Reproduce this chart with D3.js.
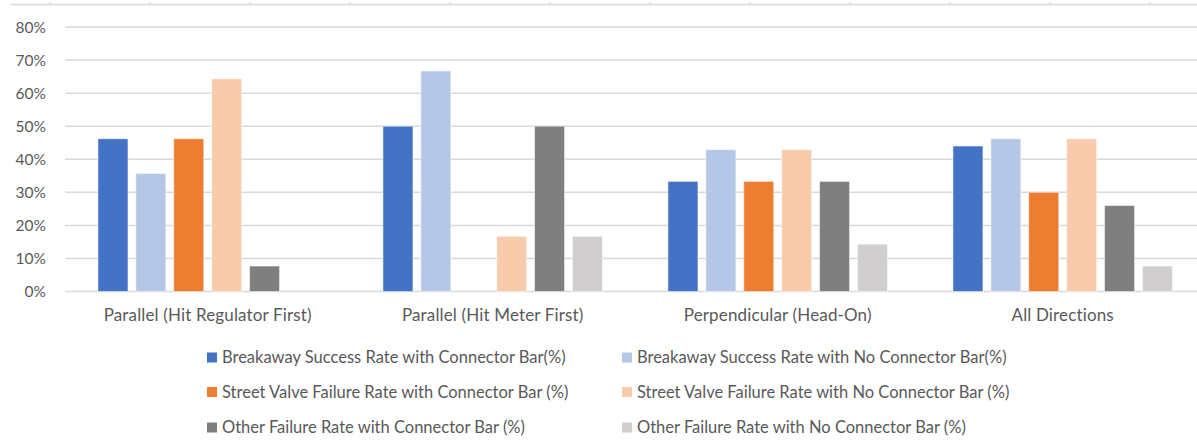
<!DOCTYPE html>
<html>
<head>
<meta charset="utf-8">
<script src="https://cdn.jsdelivr.net/npm/d3@7"></script>
<style>
  body { margin: 0; background: #fff; }
  text { font-family: Lato, "Open Sans", sans-serif; fill: #595959; }
</style>
</head>
<body>
<div id="chart"></div>
<script>
// categories on the x axis
var categories = ["Parallel (Hit Regulator First)", "Parallel (Hit Meter First)", "Perpendicular (Head-On)", "All Directions"];

// series names, in legend order
var seriesNames = [
  "Breakaway Success Rate with Connector Bar(%)",
  "Breakaway Success Rate with No Connector Bar(%)",
  "Street Valve Failure Rate with Connector Bar (%)",
  "Street Valve Failure Rate with No Connector Bar (%)",
  "Other Failure Rate with Connector Bar (%)",
  "Other Failure Rate with No Connector Bar (%)"
];

// values (%) per series, one per category
var successConnector   = [46.2, 50.0, 33.3, 44.0];
var successNoConnector = [35.7, 66.7, 42.9, 46.2];
var valveConnector     = [46.2, 0.0, 33.3, 30.0];
var valveNoConnector   = [64.3, 16.7, 42.9, 46.2];
var otherConnector     = [7.7, 50.0, 33.3, 26.0];
var otherNoConnector   = [0.0, 16.7, 14.3, 7.7];

var yTicks = [0, 10, 20, 30, 40, 50, 60, 70, 80];

var seriesValues = [successConnector, successNoConnector, valveConnector, valveNoConnector, otherConnector, otherNoConnector];
var colors = ["#4472C4", "#B4C7E7", "#ED7D31", "#F8CBAD", "#7F7F7F", "#D0CECE"];

var width = 1197, height = 441;
var plotLeft = 65.2, plotTop = 27, plotBottom = 291.5;

var svg = d3.select("#chart").append("svg")
    .attr("width", width)
    .attr("height", height);

// faint border line at the very top (cropped sheet edge)
svg.append("line")
    .attr("x1", 10).attr("x2", width)
    .attr("y1", 4.5).attr("y2", 4.5)
    .attr("stroke", "#d9d9d9").attr("stroke-width", 1.5);
svg.selectAll(".topTick").data(d3.range(50, width, 100)).enter()
    .append("line")
    .attr("x1", function(d){ return d; }).attr("x2", function(d){ return d; })
    .attr("y1", 2.5).attr("y2", 4.5)
    .attr("stroke", "#c8c8c8").attr("stroke-width", 1);

var y = d3.scaleLinear().domain([0, 80]).range([plotBottom, plotTop]);

var x0 = d3.scaleBand()
    .domain(categories)
    .range([plotLeft, plotLeft + 285 * 4]);

var x1 = d3.scaleBand()
    .domain(d3.range(seriesNames.length))
    .range([32.75, 252.25])
    .paddingInner(0.2084)
    .paddingOuter(0);

// gridlines
svg.append("g")
    .selectAll("line").data(yTicks).enter()
    .append("line")
    .attr("x1", plotLeft).attr("x2", width)
    .attr("y1", function(d){ return y(d); })
    .attr("y2", function(d){ return y(d); })
    .attr("stroke", "#d9d9d9")
    .attr("stroke-width", 1.5);

// y labels
svg.append("g")
    .selectAll("text").data(yTicks).enter()
    .append("text")
    .attr("x", 46)
    .attr("y", function(d){ return y(d); })
    .attr("dy", "0.36em")
    .attr("text-anchor", "end")
    .style("font-size", "15.5px")
    .text(function(d){ return d + "%"; });

// bars
var groups = svg.append("g").selectAll("g").data(categories).enter()
    .append("g")
    .attr("transform", function(d){ return "translate(" + x0(d) + ",0)"; });

groups.selectAll("rect")
    .data(function(d, i){ return seriesValues.map(function(s, j){ return {s: j, v: s[i]}; }); })
    .enter().append("rect")
    .attr("x", function(d){ return x1(d.s); })
    .attr("width", x1.bandwidth())
    .attr("y", function(d){ return y(d.v); })
    .attr("height", function(d){ return y(0) - y(d.v); })
    .attr("fill", function(d){ return colors[d.s]; })
    .attr("stroke", "#ffffff")
    .attr("stroke-opacity", function(d){ return d.v > 0 ? 0.5 : 0; })
    .attr("stroke-width", 1);

// category labels
svg.append("g").selectAll("text").data(categories).enter()
    .append("text")
    .attr("x", function(d){ return x0(d) + x0.bandwidth() / 2; })
    .attr("y", 320.5)
    .attr("text-anchor", "middle")
    .style("font-size", "17px")
    .style("letter-spacing", "0.15px")
    .text(function(d){ return d; });

// legend
var legendCols = [207, 622];
var legendRows = [357.5, 392, 427.5];
var legend = svg.append("g").selectAll("g").data(seriesNames).enter()
    .append("g")
    .attr("transform", function(d, i){
        return "translate(" + legendCols[i % 2] + "," + legendRows[Math.floor(i / 2)] + ")";
    });

legend.append("rect")
    .attr("x", 0).attr("y", -5)
    .attr("width", 10).attr("height", 10)
    .attr("fill", function(d, i){ return colors[i]; });

legend.append("text")
    .attr("x", 15)
    .attr("y", 0)
    .attr("dy", "0.36em")
    .style("font-size", "16.5px")
    .text(function(d){ return d; });
</script>
</body>
</html>
